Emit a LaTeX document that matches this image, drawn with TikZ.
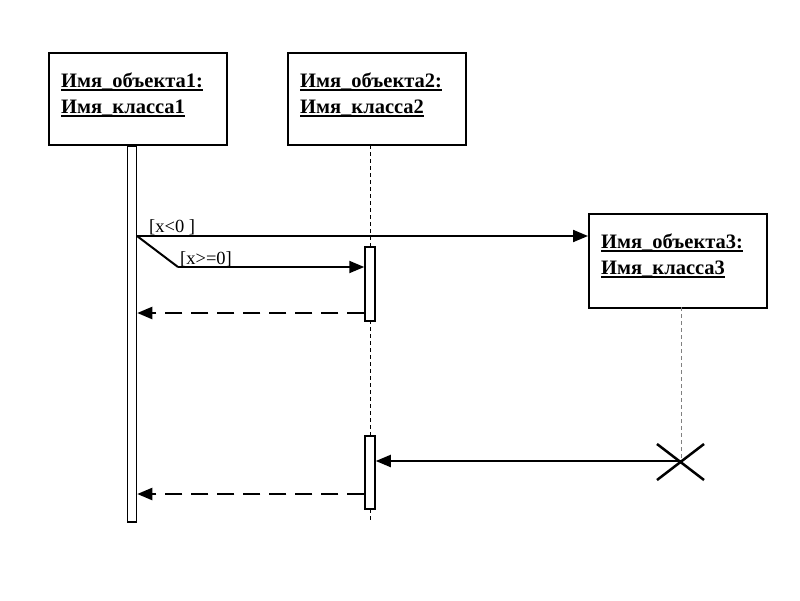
\documentclass[tikz,border=0pt]{standalone}
\usepackage{fontspec}
\setmainfont{Liberation Serif}
\usetikzlibrary{arrows.meta}
\newcommand\myul[1]{\setbox0=\hbox{#1}\rlap{\rule[-3.5pt]{\wd0}{1.7pt}}\box0}
\begin{document}
\begin{tikzpicture}[x=1pt,y=-1pt,
  objbox/.style={draw,line width=1.5pt,rectangle,minimum width=178pt,minimum height=92pt,anchor=north west,inner sep=0pt},
  objtext/.style={anchor=base west,inner sep=0pt,font=\bfseries\fontsize{20.5}{26}\selectfont},
  actbar/.style={draw,line width=1.5pt,rectangle,minimum width=9pt,anchor=north,inner sep=0pt,fill=white},
  lifedash/.style={line width=1pt,dash pattern=on 4pt off 3pt},
  lifegrey/.style={line width=0.8pt,gray,dash pattern=on 4pt off 3pt},
  msg/.style={line width=2pt,-{Triangle[length=15pt,width=12pt]}},
  ret/.style={line width=2.2pt,dash pattern=on 17pt off 9pt,-{Triangle[length=15pt,width=12pt]}},
  guard/.style={anchor=base west,inner sep=0pt,font=\fontsize{18.5}{20}\selectfont},
  crossmark/.style={line width=2.5pt}]
\useasboundingbox (0,0) rectangle (800,600);
% object boxes
\node[objbox] (o1) at (48,52) {};
\node[objbox] (o2) at (287,52) {};
\node[objbox,minimum height=94pt] (o3) at (588,213) {};
\node[objtext] (t1a) at (61,87) {\myul{Имя\_объекта1:}};
\node[objtext] (t1b) at (61,113) {\myul{Имя\_класса1}};
\node[objtext] (t2a) at (300,87) {\myul{Имя\_объекта2:}};
\node[objtext] (t2b) at (300,113) {\myul{Имя\_класса2}};
\node[objtext] (t3a) at (601,248) {\myul{Имя\_объекта3:}};
\node[objtext] (t3b) at (601,274) {\myul{Имя\_класса3}};
% lifelines
\coordinate (l2top) at (370,145);
\coordinate (l2end) at (370,521);
\draw[lifedash] (l2top) -- (l2end);
\coordinate (l3top) at (681,307);
\coordinate (xc) at (681,461);
\draw[lifegrey] (l3top) -- (xc);
% activation bars
\node[actbar,minimum height=376pt] (b1) at (132,145) {};
\node[actbar,minimum height=74pt,minimum width=10pt] (b2a) at (370,246) {};
\node[actbar,minimum height=73pt,minimum width=10pt] (b2b) at (370,435) {};
% messages
\coordinate (m1s) at (137,236);
\coordinate (k) at (178,267);
\draw[msg] (m1s) -- (o3.west |- m1s);
\draw[line width=2pt] (m1s) -- (k);
\draw[msg] (k) -- (b2a.west |- k);
\node[guard] (g1) at (149,232) {[x<0 ]};
\node[guard] (g2) at (180,264) {[x>=0]};
\coordinate (r1) at (0,313);
\draw[ret] (b2a.west |- r1) -- (b1.east |- r1);
\draw[msg] (xc) -- (b2b.east |- xc);
\coordinate (r2) at (0,494);
\draw[ret] (b2b.west |- r2) -- (b1.east |- r2);
% destruction mark
\coordinate (xa) at (657,444);
\coordinate (xb) at (704,480);
\coordinate (xd) at (657,480);
\coordinate (xe) at (704,444);
\draw[crossmark] (xa) -- (xb);
\draw[crossmark] (xd) -- (xe);
\end{tikzpicture}
\end{document}
